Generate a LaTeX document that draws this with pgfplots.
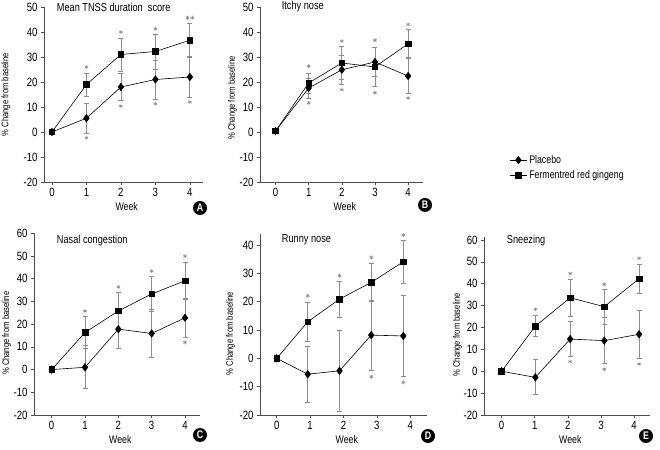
\documentclass[border=0pt]{standalone}
\usepackage{fontspec}
\setmainfont{Liberation Sans}[FakeStretch=0.8]
\usepackage{pgfplots}
\pgfplotsset{compat=1.18}
\definecolor{errgray}{gray}{0.55}
\definecolor{axgray}{gray}{0.3}

\pgfplotsset{
  panel/.style={
    scale only axis,
    anchor=south west,
    clip=false,
    axis x line*=bottom,
    axis y line*=left,
    axis line style={axgray, line width=0.6pt, -},
    tick style={axgray, line width=0.6pt},
    tick align=outside,
    major tick length=3pt,
    xtick={0,1,2,3,4},
    ymin=-20,
    xlabel={Week},
    ylabel={\% Change from baseline},
    xlabel style={font=\fontsize{11}{13}\selectfont, at={(axis description cs:0.52,0)}, anchor=center, yshift=-25pt},
    ticklabel style={font=\fontsize{12}{14}\selectfont},
    /pgf/number format/assume math mode=true,
  },
  placebo/.style={black, line width=0.6pt, mark=diamond*, mark size=3.7pt,
    mark options={solid, fill=black},
    error bars/.cd, y dir=both, y explicit,
    error bar style={errgray, line width=0.8pt},
    error mark options={rotate=90, errgray, mark size=2.5pt, line width=0.8pt}},
  frg/.style={black, line width=0.6pt, mark=square*, mark size=2.8pt,
    mark options={solid, fill=black},
    error bars/.cd, y dir=both, y explicit,
    error bar style={errgray, line width=0.8pt},
    error mark options={rotate=90, errgray, mark size=2.5pt, line width=0.8pt}},
  stars/.style={only marks, mark=asterisk, mark size=2pt, errgray, line width=0.6pt, forget plot},
}

\tikzset{
  ttl/.style={font=\fontsize{11.5}{13}\selectfont, anchor=west, inner sep=0pt},
  letter/.style={circle, fill=black, text=white, inner sep=0pt, minimum size=14pt,
  font=\fontsize{11}{11}\selectfont\bfseries}}

\begin{document}
\begin{tikzpicture}
\useasboundingbox (0pt,0pt) rectangle (660pt,449pt);

% A
\begin{axis}[panel, at={(44pt,267pt)}, width=159pt, height=175pt,
  xmin=-0.23, xmax=4.38, ymax=50, ytick={-20,-10,...,50},
  ylabel style={font=\fontsize{9.5}{11}\selectfont, at={(axis description cs:-0.239,0.5)}, anchor=center}]
\addplot+[stars] coordinates {(1,26) (1,-2.3) (2,40) (2,10.3) (3,41.3) (3,11.3) (3.93,45.7) (4.07,45.7) (4,12)};
\addplot[placebo] coordinates {(0,0) +- (0,0) (1,5.5) +- (0,6) (2,18) +- (0,5.5) (3,21) +- (0,7.8) (4,22) +- (0,8)};
\addplot[frg] coordinates {(0,0) +- (0,0) (1,19) +- (0,4.6) (2,31) +- (0,6.6) (3,32.2) +- (0,7) (4,36.7) +- (0,6.6)};
\node[ttl] at (rel axis cs:0.08,1) {Mean TNSS duration\ \ score};
\end{axis}

% B
\begin{axis}[panel, at={(260pt,267pt)}, width=163pt, height=175pt,
  xmin=-0.47, xmax=4.45, ymax=50, ytick={-20,-10,...,50},
  ylabel style={font=\fontsize{9.5}{11}\selectfont, at={(axis description cs:-0.169,0.48)}, anchor=center},
  legend style={at={(axis description cs:1.53,0.165)}, anchor=north west, draw=none, fill=none,
    font=\fontsize{11}{13}\selectfont, row sep=2pt, inner sep=0pt},
  legend cell align=left]
\addplot+[stars] coordinates {(1,26.3) (1,11.6) (2,36.4) (2,16.9) (3,36.7) (3,15.7) (4,43) (4,13.6)};
\addplot[placebo] coordinates {(0,0.4) +- (0,0) (1,17.6) +- (0,4) (2,24.9) +- (0,5.7) (3,28) +- (0,5.7) (4,22.4) +- (0,7)};
\addlegendentry{Placebo}
\addplot[frg] coordinates {(0,0.4) +- (0,0) (1,19.6) +- (0,4) (2,27.6) +- (0,6.5) (3,26) +- (0,7.7) (4,35.3) +- (0,5.6)};
\addlegendentry{Fermentred red gingeng}
\node[ttl] at (rel axis cs:0.133,1) {Itchy nose};
\end{axis}

% C
\begin{axis}[panel, at={(34pt,34pt)}, width=166pt, height=181.7pt,
  xmin=-0.53, xmax=4.45, ymax=60, ytick={-20,-10,...,60},
  ylabel style={font=\fontsize{9.5}{11}\selectfont, at={(axis description cs:-0.165,0.45)}, anchor=center}]
\addplot+[stars] coordinates {(1,25.8) (2,36.4) (3,43.4) (4,49.9) (4,12)};
\addplot[placebo] coordinates {(0,0) +- (0,0) (1,1) +- (0,9.5) (2,17.8) +- (0,8.5) (3,15.9) +- (0,10.6) (4,22.8) +- (0,8.6)};
\addplot[frg] coordinates {(0,0) +- (0,0) (1,16.3) +- (0,7) (2,25.8) +- (0,8) (3,33.3) +- (0,7.6) (4,39.1) +- (0,8)};
\node[ttl] at (rel axis cs:0.137,0.959) {Nasal congestion};
\end{axis}

% D
\begin{axis}[panel, at={(260pt,34pt)}, width=167pt, height=181.3pt,
  xmin=-0.5, xmax=4.5, ymax=44, ytick={-20,-10,...,40},
  ylabel style={font=\fontsize{9.5}{11}\selectfont, at={(axis description cs:-0.177,0.45)}, anchor=center}]
\addplot+[stars] coordinates {(0.93,22.1) (1.88,29.2) (2.83,35.6) (2.83,-6.5) (3.79,43.5) (3.79,-8.5)};
\addplot[placebo] coordinates {(0,0) +- (0,0) (0.93,-5.6) +- (0,9.8) (1.88,-4.4) +- (0,14.4) (2.83,8.2) +- (0,12.4) (3.79,7.9) +- (0,14.3)};
\addplot[frg] coordinates {(0,0) +- (0,0) (0.93,12.9) +- (0,7) (1.88,20.9) +- (0,6.4) (2.83,26.8) +- (0,6.6) (3.79,34.1) +- (0,7.6)};
\node[ttl] at (rel axis cs:0.13,0.965) {Runny nose};
\end{axis}

% E
\begin{axis}[panel, at={(484pt,34pt)}, width=166pt, height=178.3pt,
  xmin=-0.53, xmax=4.48, ymax=61.5, ytick={-20,-10,...,60},
  ylabel style={font=\fontsize{9.5}{11}\selectfont, at={(axis description cs:-0.16,0.45)}, anchor=center}]
\addplot+[stars] coordinates {(1.02,28.3) (2.07,44.7) (2.07,4.4) (3.1,39.7) (3.1,0.9) (4.15,51.6) (4.15,3.3)};
\addplot[placebo] coordinates {(0,0) +- (0,0) (1.02,-2.8) +- (0,8) (2.07,14.7) +- (0,8) (3.1,14) +- (0,10.5) (4.15,16.9) +- (0,11)};
\addplot[frg] coordinates {(0,0) +- (0,0) (1.02,20.6) +- (0,4.9) (2.07,33.6) +- (0,8.4) (3.1,29.5) +- (0,8) (4.15,42.3) +- (0,6.6)};
\node[ttl] at (rel axis cs:0.137,0.978) {Sneezing};
\end{axis}

% panel letters
\node[letter] at (200pt,241pt) {A};
\node[letter] at (425pt,244pt) {B};
\node[letter] at (200pt,14pt) {C};
\node[letter] at (428pt,13pt) {D};
\node[letter] at (646pt,13pt) {E};
\end{tikzpicture}
\end{document}
